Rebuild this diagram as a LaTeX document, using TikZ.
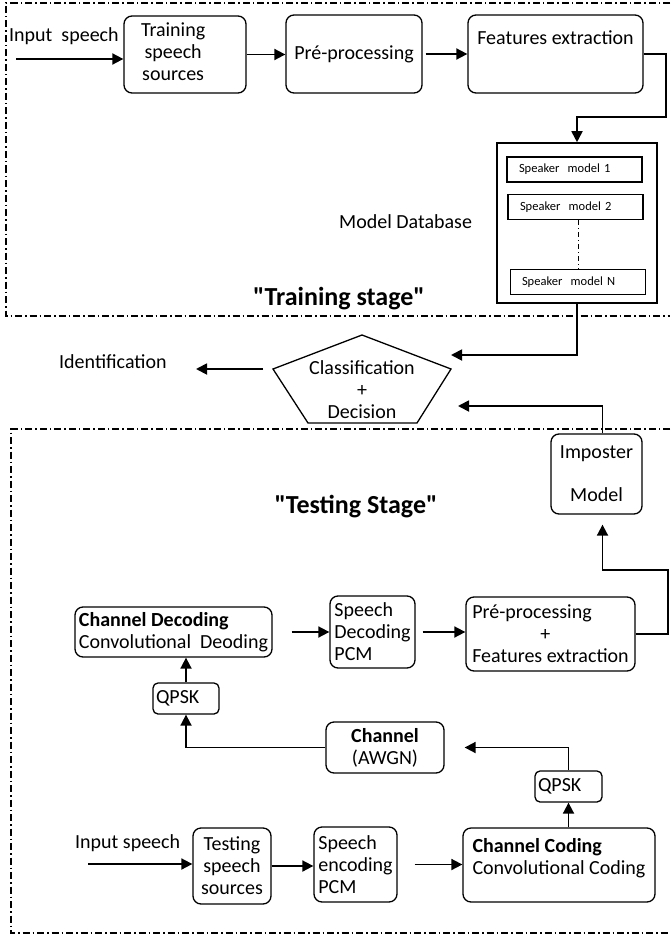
\documentclass[tikz,border=0pt]{standalone}
\usepackage{fontspec}
\setmainfont{Carlito}[Ligatures=TeXOff]
\usetikzlibrary{arrows.meta, calc}

\begin{document}
\begin{tikzpicture}[x=1pt, y=-1pt,
    >={Triangle[length=11pt, width=11pt]},
    block/.style={draw, rounded corners=8pt, line width=1.3pt, inner sep=0pt,
                  font=\fontsize{20}{22}\selectfont},
    model/.style={draw, line width=1.3pt, inner xsep=12pt, inner ysep=0pt, align=left,
                  text width=111pt, minimum width=135pt, minimum height=25pt,
                  font=\fontsize{12.5}{14}\selectfont},
    lbl/.style={inner sep=0pt, font=\fontsize{20}{22}\selectfont},
    stage/.style={inner sep=0pt, font=\fontsize{26}{30}\selectfont\bfseries},
    link/.style={->, line width=1.8pt},
    stageframe/.style={line width=1.2pt, dash pattern=on 7pt off 3pt on 1.5pt off 3pt}
]
    \useasboundingbox (0,0) rectangle (670,936);

    % Training stage
    \draw[stageframe] (670,3) -- (6,3) -- (6,316) -- (670,316);
    \node[lbl, anchor=west] (inspeech1) at (9,36) {Input\ \ speech};
    \coordinate (in1) at (16,59);
    \node[block, minimum width=122pt, minimum height=77pt, align=left, text width=88pt, inner xsep=17pt] (tss1) at (185,54.5) {\begin{tabular}{@{}c@{}}Training\\speech\\sources\end{tabular}};
    \node[block, minimum width=136pt, minimum height=78pt] (pp1) at (354,54) {Pré-processing};
    \node[block, minimum width=175pt, minimum height=78pt, text depth=32pt] (fe) at (555.5,54) {Features extraction};

    % Model database
    \node[draw, line width=1.6pt, minimum width=160pt, minimum height=160pt] (db) at (577,223) {};
    \node[model] (sm1) at (574.5,169.5) {Speaker\ \ model 1};
    \node[model] (sm2) at (575.5,207) {Speaker\ \ model 2};
    \node[model, inner xsep=11pt, text width=112pt] (smN) at (578,282) {Speaker\ \ model N};
    \draw[line width=1pt, dash pattern=on 5pt off 3pt on 1pt off 3pt] (smN.north |- sm2.south) -- (smN.north);
    \node[lbl, anchor=west] (dblabel) at (339,222) {Model Database};
    \node[stage] (trainlabel) at (339,299) {"Training stage"};

    % Arrows (training)
    \draw[link] (in1) -- (in1 -| tss1.west);
    \draw[link] (tss1.east) -- (tss1.east -| pp1.west);
    \draw[link, shorten <=3pt] (pp1.east) -- (pp1.east -| fe.west);
    \draw[link] (fe.east) -- ++(22,0) -- ++(0,63) -| (db.north);

    % Decision
    \coordinate (pt) at (362,335);
    \coordinate (pr) at (451,369);
    \coordinate (pbr) at (417,423);
    \coordinate (pbl) at (308,423);
    \coordinate (pl) at (273,369);
    \draw[line width=1.3pt] (pt) -- (pr) -- (pbr) -- (pbl) -- (pl) -- cycle;
    \node[lbl, align=center] (decide) at (362,390) {Classification\\+\\Decision};
    \node[lbl, anchor=west] (ident) at (59,362) {Identification};
    \coordinate (idtip) at (196,369);
    \coordinate (dbtip) at (451,355);
    \coordinate (imptip) at (458,406);
    \draw[link, shorten <=10pt] (pl) -- (idtip);
    \draw[link] (db.south) |- (dbtip);

    % Testing stage
    \draw[stageframe] (670,429) -- (11,429) -- (11,933) -- (670,933);
    \node[block, minimum width=91pt, minimum height=80pt, align=center] (imp) at (596.5,474) {Imposter\\[21pt]Model};
    \node[stage] (testlabel) at (356,507) {"Testing Stage"};
    \draw[link] ([xshift=6pt]imp.north) |- (imptip);

    \node[block, minimum width=197pt, minimum height=50pt, align=left] (chdec) at (173.5,632) {\textbf{Channel Decoding}\\Convolutional\ \ Deoding};
    \node[block, minimum width=85pt, minimum height=72pt, align=left] (spdec) at (372.5,632) {Speech\\Decoding\\PCM};
    \node[block, minimum width=169pt, minimum height=74pt, align=left] (pp2) at (550.5,634) {Pré-processing\\\hspace*{68pt}+\\Features extraction};
    \node[block, rounded corners=5pt, minimum height=31pt, align=left, text width=60pt, inner xsep=3pt] (qpsk1) at (186,698.5) {QPSK};
    \node[block, minimum width=118pt, minimum height=51pt, align=center] (chan) at (385,747.5) {\textbf{Channel}\\(AWGN)};
    \node[block, rounded corners=5pt, minimum height=31pt, align=left, text width=61pt, inner xsep=3pt] (qpsk2) at (568.5,786.5) {QPSK};
    \node[block, minimum width=192pt, minimum height=74pt, align=left, text depth=18pt] (chcod) at (559,865) {\textbf{Channel Coding}\\Convolutional Coding};
    \node[block, minimum width=83pt, minimum height=75pt, align=left] (spenc) at (355.5,864.5) {Speech\\encoding\\PCM};
    \node[block, minimum width=78pt, minimum height=76pt, align=center] (tss2) at (232,866) {Testing\\speech\\sources};
    \node[lbl, anchor=west] (inspeech2) at (75,843) {Input speech};
    \coordinate (in2) at (88,864);

    % Arrows (testing)
    \draw[link] (in2) -- (in2 -| tss2.west);
    \draw[link] (tss2.east) -- (tss2.east -| spenc.west);
    \draw[link, shorten <=17pt] (spenc.east) -- (spenc.east -| chcod.west);
    \draw[link] (chcod.north -| qpsk2.south) -- (qpsk2.south);
    \draw[link, shorten >=20pt] (qpsk2.north) |- (chan.east);
    \draw[link] (chan.west) -| (qpsk1.south);
    \draw[link] (qpsk1.north) -- (qpsk1.north |- chdec.south);
    \draw[link, shorten <=19pt] (chdec.east) -- (chdec.east -| spdec.west);
    \draw[link, shorten <=7pt] (spdec.east) -- (spdec.east -| pp2.west);
    \draw[link, shorten >=10pt] (pp2.east) -- ++(32,0) -- ++(0,-64) -| ([xshift=6pt]imp.south);
\end{tikzpicture}
\end{document}
